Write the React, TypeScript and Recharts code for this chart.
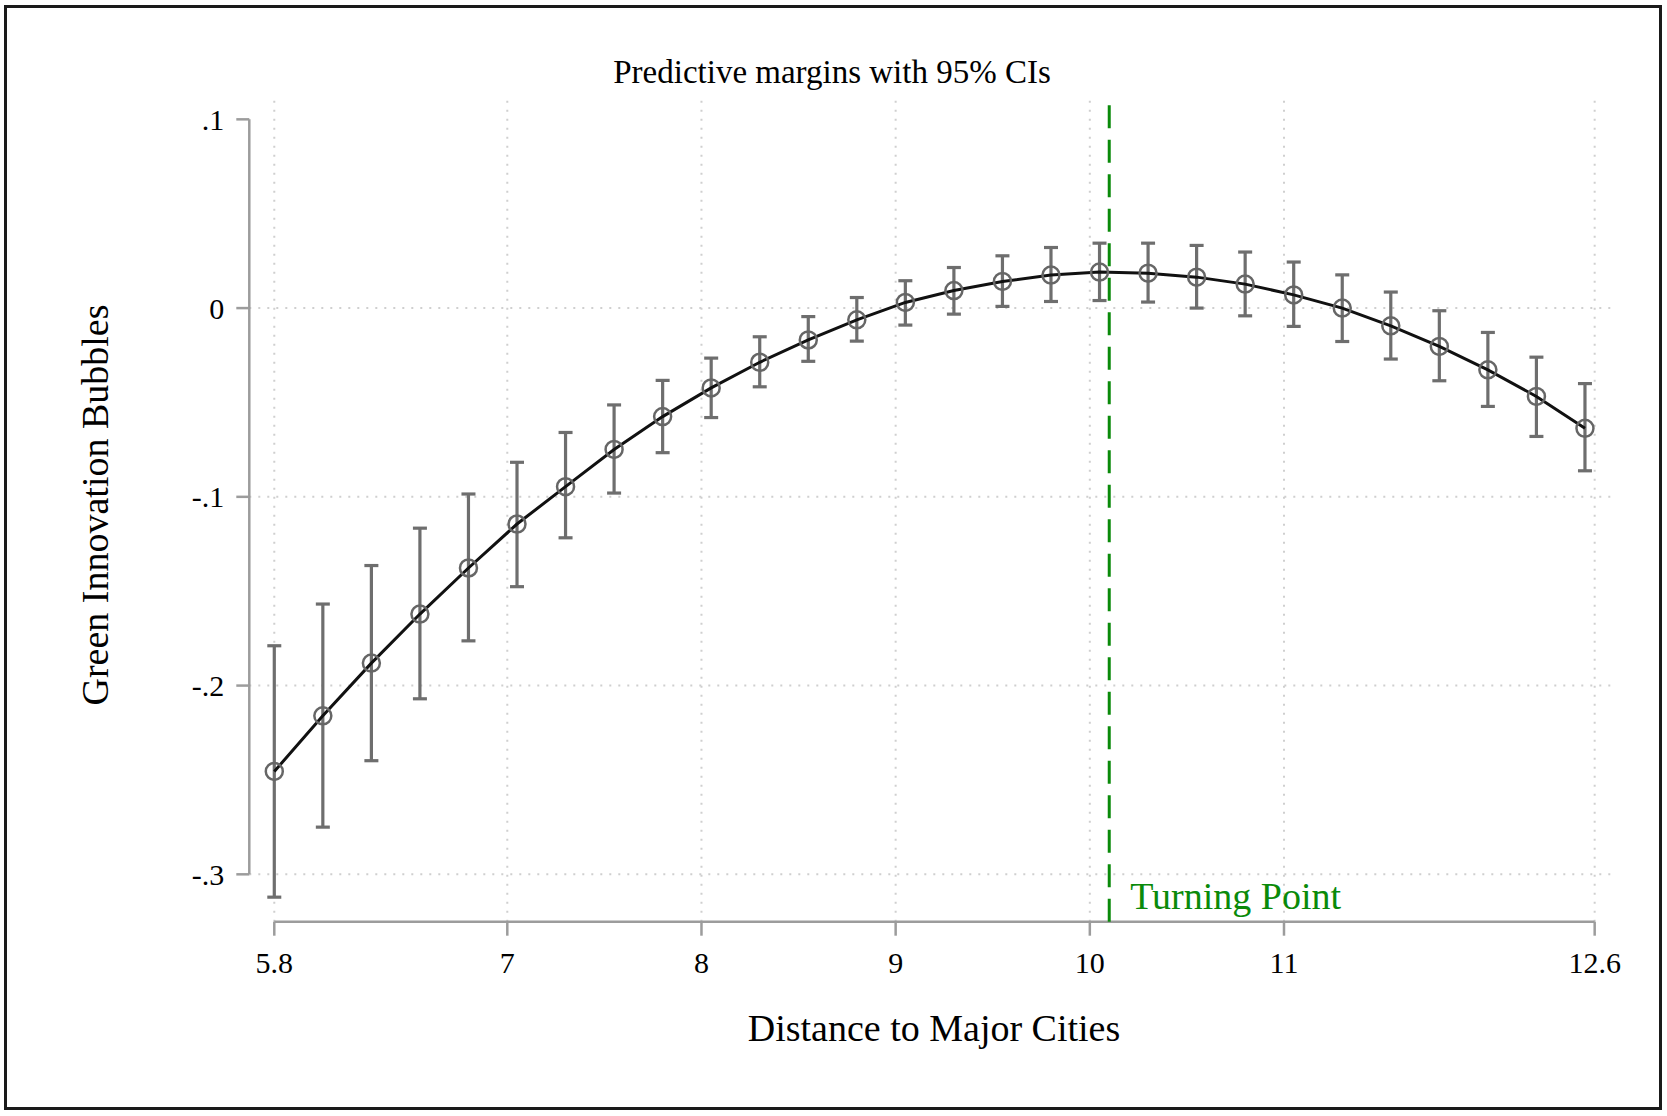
import React from 'react';
import { LineChart, Line, XAxis, YAxis, ErrorBar, ReferenceLine } from 'recharts';

const distance = [5.8, 6.05, 6.3, 6.55, 6.8, 7.05, 7.3, 7.55, 7.8, 8.05, 8.3, 8.55, 8.8, 9.05, 9.3, 9.55, 9.8, 10.05, 10.3, 10.55, 10.8, 11.05, 11.3, 11.55, 11.8, 12.05, 12.3, 12.55];
const margins = [-0.2455, -0.216, -0.1881, -0.1621, -0.1377, -0.1144, -0.0946, -0.0749, -0.0575, -0.0423, -0.0287, -0.0169, -0.0062, 0.003, 0.0093, 0.0141, 0.0175, 0.0191, 0.0185, 0.0164, 0.0127, 0.007, 0.0, -0.0094, -0.0203, -0.0327, -0.0468, -0.0637];
const lowerCI = [-0.3121, -0.275, -0.2398, -0.207, -0.1763, -0.1476, -0.1217, -0.098, -0.0766, -0.058, -0.0417, -0.0282, -0.0175, -0.009, -0.0032, 0.0009, 0.0035, 0.004, 0.0032, 0.0, -0.0041, -0.0097, -0.0177, -0.027, -0.0385, -0.0521, -0.068, -0.0862];
const upperCI = [-0.1789, -0.1568, -0.1364, -0.1166, -0.0985, -0.0817, -0.0659, -0.0513, -0.0383, -0.0265, -0.0152, -0.0045, 0.0056, 0.0145, 0.0215, 0.0277, 0.0321, 0.0344, 0.0344, 0.0332, 0.0297, 0.0244, 0.0176, 0.0085, -0.0014, -0.0129, -0.026, -0.04];

const xTicks = [5.8, 7, 8, 9, 10, 11, 12.6];
const yTicks = [-0.3, -0.2, -0.1, 0, 0.1];
const yTickLabels = ['-.3', '-.2', '-.1', '0', '.1'];
const xGrid = [5.8, 7, 8, 9, 10, 11, 12.6];
const yGrid = [-0.3, -0.2, -0.1, 0];
const turningPoint = 10.1;

const X_DOMAIN: [number, number] = [5.6713, 12.715];
const Y_DOMAIN: [number, number] = [-0.3251, 0.1129];

const FONT = "'Liberation Serif', 'Times New Roman', Times, serif";
const AXIS_GRAY = '#9c9c9c';
const GRID_GRAY = '#cfcfcf';
const GREEN = '#0a8a0a';

const Y_AXIS_W = 80;
const X_AXIS_H = 80;

const data = distance.map((d, i) => ({
  x: d,
  y: margins[i],
  err: [margins[i] - lowerCI[i], upperCI[i] - margins[i]],
}));

const TurningLabel = (props: any) => {
  const vb = props.viewBox || {};
  return (
    <text x={vb.x + 21} y={vb.y + vb.height - 13} fill={GREEN} fontFamily={FONT} fontSize={38}>
      Turning Point
    </text>
  );
};

const fmtY = (v: number) => {
  const idx = yTicks.findIndex((t) => Math.abs(t - v) < 1e-9);
  return idx >= 0 ? yTickLabels[idx] : String(v);
};

export default function App() {
  return (
    <div style={{ position: 'absolute', left: 0, top: 0, width: 1667, height: 1116, background: '#fff' }}>
      <div
        style={{
          position: 'absolute',
          left: 4,
          top: 5,
          width: 1658,
          height: 1105,
          border: '3.5px solid #1a1a1a',
          boxSizing: 'border-box',
        }}
      />
      <div style={{ position: 'absolute', left: 0, top: 0 }}>
        <LineChart
          width={1667}
          height={1116}
          data={data}
          margin={{ top: 95, right: 50, bottom: 194.3 - X_AXIS_H, left: 249.3 - Y_AXIS_W }}
        >
          <XAxis
            type="number"
            dataKey="x"
            domain={X_DOMAIN}
            ticks={xTicks}
            allowDataOverflow
            height={X_AXIS_H}
            axisLine={false}
            tickLine={{ stroke: AXIS_GRAY, strokeWidth: 2.5 }}
            tickSize={14}
            tickMargin={16}
            tick={{ fill: '#000', fontSize: 30, fontFamily: FONT }}
            interval={0}
          />
          <YAxis
            type="number"
            domain={Y_DOMAIN}
            ticks={yTicks}
            allowDataOverflow
            width={Y_AXIS_W}
            axisLine={false}
            tickLine={{ stroke: AXIS_GRAY, strokeWidth: 2.5 }}
            tickSize={13}
            tickMargin={12}
            tickFormatter={fmtY}
            tick={{ fill: '#000', fontSize: 30, fontFamily: FONT }}
            interval={0}
          />
          {xGrid.map((v) => (
            <ReferenceLine key={'gx' + v} x={v} stroke={GRID_GRAY} strokeWidth={2} strokeDasharray="2 7" />
          ))}
          {yGrid.map((v) => (
            <ReferenceLine key={'gy' + v} y={v} stroke={GRID_GRAY} strokeWidth={2} strokeDasharray="2 7" />
          ))}
          <ReferenceLine
            segment={[{ x: 5.8, y: Y_DOMAIN[0] }, { x: 12.6, y: Y_DOMAIN[0] }]}
            stroke={AXIS_GRAY}
            strokeWidth={2.5}
          />
          <ReferenceLine
            segment={[{ x: X_DOMAIN[0], y: -0.3 }, { x: X_DOMAIN[0], y: 0.1 }]}
            stroke={AXIS_GRAY}
            strokeWidth={2.5}
          />
          <Line
            dataKey="y"
            stroke="none"
            dot={false}
            activeDot={false}
            isAnimationActive={false}
          >
            <ErrorBar dataKey="err" direction="y" width={7} stroke="#6e6e6e" strokeWidth={3.2} />
          </Line>
          <Line
            type="linear"
            dataKey="y"
            stroke="#111"
            strokeWidth={3}
            dot={{ r: 8.5, stroke: '#666', strokeWidth: 2.5, fill: 'none' }}
            activeDot={false}
            isAnimationActive={false}
          />
          <ReferenceLine
            x={turningPoint}
            stroke={GREEN}
            strokeWidth={3}
            strokeDasharray="23 11.5"
            label={<TurningLabel />}
          />
        </LineChart>
      </div>
      <svg
        width={1667}
        height={1116}
        style={{ position: 'absolute', left: 0, top: 0, pointerEvents: 'none' }}
      >
        <text x={832} y={83} textAnchor="middle" fontFamily={FONT} fontSize={33} fill="#000">
          Predictive margins with 95% CIs
        </text>
        <text x={934} y={1041} textAnchor="middle" fontFamily={FONT} fontSize={38} fill="#000">
          Distance to Major Cities
        </text>
        <text
          x={108}
          y={505}
          textAnchor="middle"
          fontFamily={FONT}
          fontSize={38}
          fill="#000"
          transform="rotate(-90 108 505)"
        >
          Green Innovation Bubbles
        </text>
      </svg>
    </div>
  );
}
